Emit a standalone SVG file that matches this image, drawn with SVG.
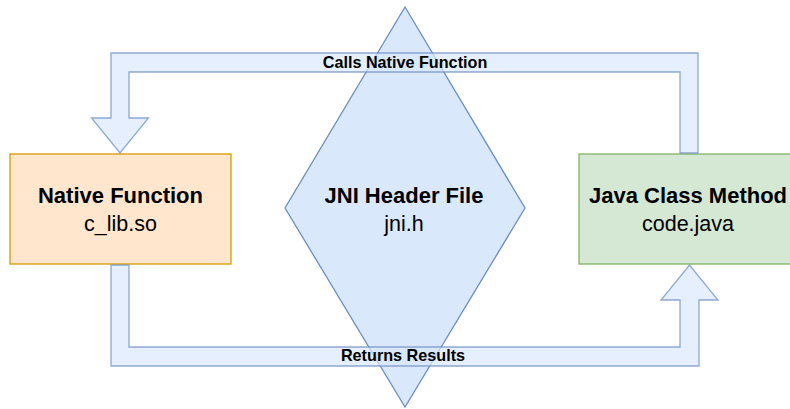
<svg xmlns="http://www.w3.org/2000/svg" width="790" height="409" viewBox="0 0 790 409">
<style>
.t{font-family:"Liberation Sans",Arial,sans-serif;text-anchor:middle;fill:#000}
.b{font-weight:bold;font-size:22px}
.r{font-size:21.5px}
.lbl{font-weight:bold;font-size:16.2px}
.arrow{fill:#dae8fc;fill-opacity:0.7;stroke:#6c8ebf;stroke-opacity:0.75;stroke-width:1.3}
</style>
<rect width="790" height="409" fill="#ffffff"/>
<g id="jni">
<polygon points="405,7 525,208 405,407 285,208" fill="#dae8fc" stroke="#6c8ebf" stroke-width="1.3"/>
<text class="t b" x="404" y="203">JNI Header File</text>
<text class="t r" x="404" y="231">jni.h</text>
</g>
<g id="native">
<rect x="10" y="154" width="221" height="110" fill="#ffe6cc" stroke="#d79b00" stroke-width="1.3"/>
<text class="t b" x="120.5" y="203">Native Function</text>
<text class="t r" x="120.5" y="231">c_lib.so</text>
</g>
<g id="java">
<rect x="579" y="154" width="221" height="110" fill="#d5e8d4" stroke="#82b366" stroke-width="1.3"/>
<text class="t b" x="688" y="203">Java Class Method</text>
<text class="t r" x="688" y="231">code.java</text>
</g>
<g id="connectors">
<path class="arrow" d="M680,153 V72 H129 V118 H148.5 L120,153 L91.5,118 H111 V53 H698 V153 Z"/>
<text class="t lbl" x="405" y="67.5">Calls Native Function</text>
<path class="arrow" d="M111,265 V366 H699 V300 H718 L689.5,265 L661,300 H680 V347 H129 V265 Z"/>
<text class="t lbl" x="403" y="361">Returns Results</text>
</g>
</svg>
